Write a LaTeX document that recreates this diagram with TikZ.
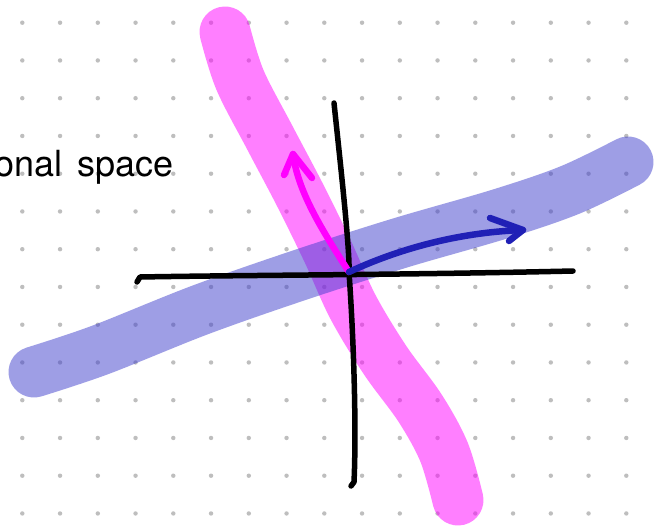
\documentclass[tikz,border=0pt]{standalone}
\usepackage{fontspec}
\setmainfont{TeX Gyre Heros}
\definecolor{dotgrey}{RGB}{190,190,190}
\definecolor{pinkband}{RGB}{255,0,255}
\definecolor{blueband}{RGB}{62,62,205}
\definecolor{arrowmag}{RGB}{255,0,255}
\definecolor{arrowblue}{RGB}{32,32,182}
\tikzset{
  band/.style={line width=51pt, line cap=round, line join=round, opacity=0.5},
  axisline/.style={line width=5.5pt, line cap=round, line join=round, black},
  vecline/.style={line width=6.5pt, line cap=round, line join=round},
  griddot/.style={fill=dotgrey},
  label/.style={inner sep=0pt, anchor=base east, font=\fontsize{36}{42}\selectfont}
}
\begin{document}
\begin{tikzpicture}[x=1pt, y=-1pt]
\useasboundingbox (0,0) rectangle (658,532);
\clip (0,0) rectangle (658,532);
\fill[white] (0,0) rectangle (658,532);
% dot grid
\foreach \i in {0,...,16}{
  \foreach \j in {0,...,13}{
    \fill[griddot] ({22.3+37.75*\i},{22.7+37.75*\j}) circle[radius=2.2pt];
  }
}
% text
\node[label] (lbl) at (174,176) {onal\hspace{15pt}space};
% pink band
\draw[band, draw=pinkband] plot[smooth, tension=0.55] coordinates
  {(225,32) (240,80) (270,138) (300,195) (328,252) (353,307) (385,360) (420,408) (444,452) (458,500)};
% blue band
\draw[band, draw=blueband] plot[smooth, tension=0.55] coordinates
  {(34,372) (100,350) (200,310) (300,275) (400,243) (500,214) (570,190) (628,162)};
% axes
\coordinate (o) at (349,272);
\coordinate (xl) at (140,277);
\coordinate (xr) at (573,271);
\coordinate (yt) at (334,103);
\coordinate (yb) at (354,482);
\draw[axisline] (137,282) -- (xl) .. controls (250,275) and (400,275) .. (xr);
\draw[axisline] (yt) .. controls (340,160) and (350,250) .. (o) .. controls (355,360) and (356,440) .. (yb) -- (351,486);
% magenta vector
\coordinate (mt) at (293,154);
\draw[vecline, arrowmag] (o) .. controls (322,230) and (298,192) .. (mt);
\draw[vecline, arrowmag] (284,175) -- (mt) -- (312,178);
% blue vector
\coordinate (bt) at (523,230);
\draw[vecline, arrowblue] (o) .. controls (405,246) and (465,232) .. (bt);
\draw[vecline, arrowblue] (490,218) -- (bt) -- (509,241);
\end{tikzpicture}
\end{document}
